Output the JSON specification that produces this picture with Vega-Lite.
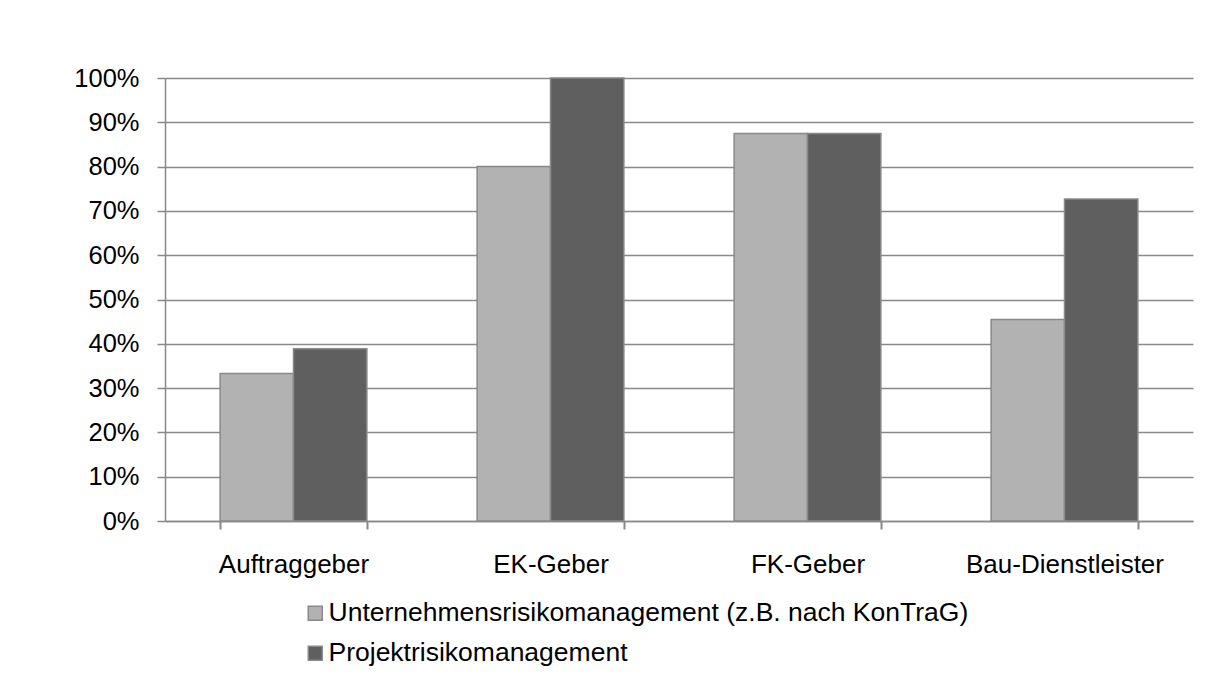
{
  "$schema": "https://vega.github.io/schema/vega-lite/v6.json",
  "width": 1028,
  "height": 443,
  "autosize": {"type": "none"},
  "padding": {"left": 165, "top": 78, "right": 12, "bottom": 161},
  "background": "white",
  "config": {
    "font": "Liberation Sans",
    "view": {"stroke": null}
  },
  "data": {
    "values": [
      {"Gruppe": "Auftraggeber", "Art": "Unternehmensrisikomanagement (z.B. nach KonTraG)", "Anteil": 0.333},
      {"Gruppe": "Auftraggeber", "Art": "Projektrisikomanagement", "Anteil": 0.389},
      {"Gruppe": "EK-Geber", "Art": "Unternehmensrisikomanagement (z.B. nach KonTraG)", "Anteil": 0.8},
      {"Gruppe": "EK-Geber", "Art": "Projektrisikomanagement", "Anteil": 1.0},
      {"Gruppe": "FK-Geber", "Art": "Unternehmensrisikomanagement (z.B. nach KonTraG)", "Anteil": 0.875},
      {"Gruppe": "FK-Geber", "Art": "Projektrisikomanagement", "Anteil": 0.875},
      {"Gruppe": "Bau-Dienstleister", "Art": "Unternehmensrisikomanagement (z.B. nach KonTraG)", "Anteil": 0.455},
      {"Gruppe": "Bau-Dienstleister", "Art": "Projektrisikomanagement", "Anteil": 0.727}
    ]
  },
  "mark": {"type": "bar", "stroke": "#898989", "strokeWidth": 1.5, "fillOpacity": 1},
  "encoding": {
    "x": {
      "field": "Gruppe",
      "type": "nominal",
      "sort": ["Auftraggeber", "EK-Geber", "FK-Geber", "Bau-Dienstleister"],
      "scale": {"paddingInner": 0.429, "paddingOuter": 0.2145},
      "axis": {
        "title": null,
        "labelAngle": 0,
        "ticks": true,
        "tickBand": "extent",
        "domainColor": "#898989",
        "domainWidth": 1.5,
        "tickColor": "#898989",
        "tickWidth": 2,
        "tickSize": 8,
        "tickOpacity": 1,
        "labelPadding": 22,
        "labelFontSize": 26,
        "labelLimit": 1000,
        "labelColor": "#000000",
        "labelFont": "Liberation Sans"
      }
    },
    "xOffset": {
      "field": "Art",
      "type": "nominal",
      "sort": ["Unternehmensrisikomanagement (z.B. nach KonTraG)", "Projektrisikomanagement"]
    },
    "y": {
      "field": "Anteil",
      "type": "quantitative",
      "scale": {"domain": [0, 1], "nice": false},
      "axis": {
        "title": null,
        "format": ".0%",
        "values": [0, 0.1, 0.2, 0.3, 0.4, 0.5, 0.6, 0.7, 0.8, 0.9, 1.0],
        "grid": true,
        "gridColor": "#898989",
        "gridWidth": 1.5,
        "gridOpacity": 1,
        "domainColor": "#898989",
        "domainWidth": 1.5,
        "ticks": true,
        "tickColor": "#898989",
        "tickWidth": 1.5,
        "tickSize": 8,
        "labelPadding": 18,
        "labelFontSize": 25.5,
        "labelColor": "#000000",
        "labelFont": "Liberation Sans"
      }
    },
    "color": {
      "field": "Art",
      "type": "nominal",
      "scale": {
        "domain": ["Unternehmensrisikomanagement (z.B. nach KonTraG)", "Projektrisikomanagement"],
        "range": ["#b2b2b2", "#5f5f5f"]
      },
      "legend": {
        "title": null,
        "orient": "none",
        "legendX": 137,
        "legendY": 522,
        "direction": "vertical",
        "symbolType": "square",
        "symbolSize": 196,
        "symbolStrokeColor": "#898989",
        "symbolStrokeWidth": 1.5,
        "symbolOpacity": 1,
        "labelFontSize": 26.5,
        "labelFont": "Liberation Sans",
        "labelColor": "#000000",
        "labelOffset": 0,
        "labelLimit": 1000,
        "rowPadding": 13
      }
    }
  }
}
